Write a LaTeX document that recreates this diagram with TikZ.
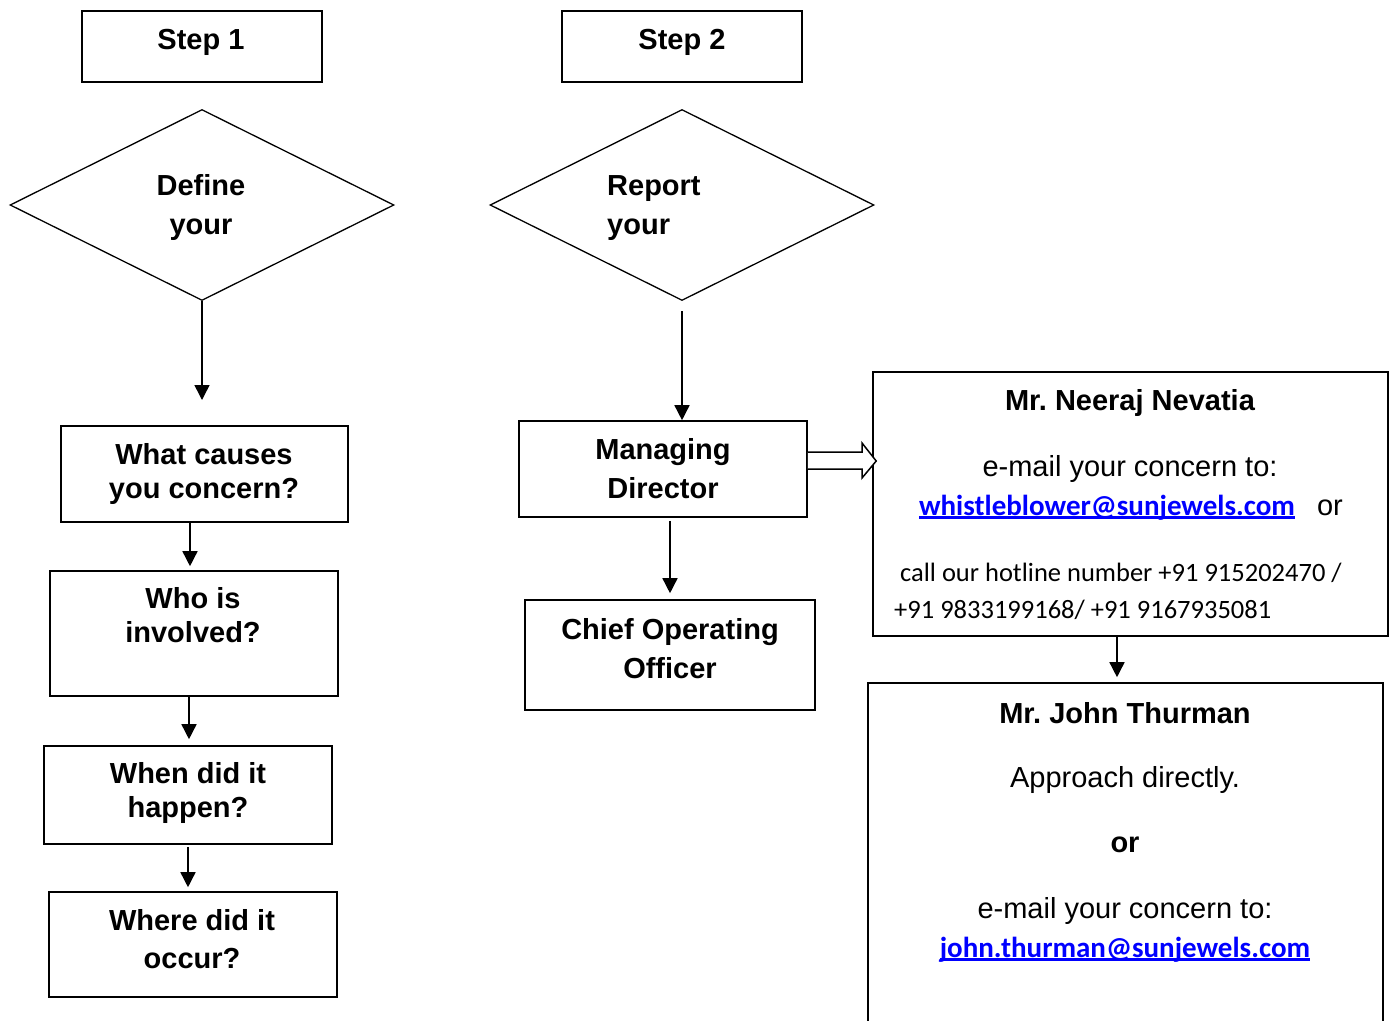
\documentclass[tikz,border=0pt]{standalone}
\usepackage{fontspec}
\setmainfont{Liberation Sans}
\newfontfamily\calibri{Carlito}
\usetikzlibrary{arrows.meta,shapes.geometric}
\definecolor{linkblue}{RGB}{0,0,255}
\newcommand\mailline[1]{\setbox0\hbox{#1}\leavevmode\rlap{\rule[-4pt]{\wd0}{2.8pt}}\box0}
\frenchspacing

\tikzset{
  box/.style={draw, line width=1.6pt, rectangle, inner sep=0pt},
  dmnd/.style={draw, line width=1.3pt, diamond, inner sep=0pt, minimum width=384pt, minimum height=191pt},
  txt/.style={inner sep=0pt, align=center, font=\fontsize{29}{34}\selectfont\bfseries},
  plain/.style={inner sep=0pt, font=\fontsize{29}{34}\selectfont},
  hot/.style={inner sep=0pt, anchor=west, font=\calibri\fontsize{26.5}{30}\selectfont},
  mail/.style={inner sep=0pt, text=linkblue, font=\calibri\bfseries\fontsize{29}{34}\selectfont},
  arr/.style={-{Triangle[length=15pt,width=15pt]}, line width=1.5pt},
}

\begin{document}
\begin{tikzpicture}[x=1pt,y=1pt,yscale=-1,xscale=1]
\useasboundingbox (0,0) rectangle (1389,1020);
\clip (0,0) rectangle (1389,1020);

%Shape: Rectangle [step 1]
\node[box, minimum width=240pt, minimum height=71pt] (step1) at (202,46.5) {};
%Shape: Rectangle [step 2]
\node[box, minimum width=240pt, minimum height=71pt] (step2) at (682,46.5) {};
%Shape: Diamond [define]
\node[dmnd] (define) at (202,205) {};
%Shape: Diamond [report]
\node[dmnd] (report) at (682,205) {};

%Shape: Rectangle [left column]
\node[box, minimum width=287pt, minimum height=96pt] (what) at (204.5,474) {};
\node[box, minimum width=288pt, minimum height=125pt] (who) at (194,633.5) {};
\node[box, minimum width=288pt, minimum height=98pt] (when) at (188,795) {};
\node[box, minimum width=288pt, minimum height=105pt] (where) at (193,944.5) {};

%Shape: Rectangle [middle column]
\node[box, minimum width=288pt, minimum height=96pt] (md) at (663,469) {};
\node[box, minimum width=290pt, minimum height=110pt] (coo) at (670,655) {};

%Shape: Rectangle [right column]
\node[box, minimum width=515pt, minimum height=264pt] (neeraj) at (1130.5,504) {};
\node[box, minimum width=515pt, minimum height=357pt] (john) at (1125.5,861.5) {};

% Text Node
\node[txt] (tstep1) at (201,42) {Step 1};
% Text Node
\node[txt] (tstep2) at (682,42) {Step 2};
% Text Node
\node[txt, align=center] (tdefine) at (201,207) {Define\\[5pt]your};
% Text Node
\node[txt, align=left, anchor=west] (treport) at (607,208) {Report\\[5pt]your};
% Text Node
\node[txt] (twhat) at (204,474) {What causes\\you concern?};
% Text Node
\node[txt] (twho) at (193,615) {Who is\\involved?};
% Text Node
\node[txt] (twhen) at (188,793) {When did it\\happen?};
% Text Node
\node[txt] (twhere) at (192,939) {Where did it\\[4pt]occur?};
% Text Node
\node[txt] (tmd) at (663,469) {Managing\\[5pt]Director};
% Text Node
\node[txt] (tcoo) at (670,649) {Chief Operating\\[5pt]Officer};

% Text Node
\node[txt] (tneeraj) at (1130,403) {Mr. Neeraj Nevatia};
% Text Node
\node[plain] (tmail1) at (1130,469) {e-mail your concern to:};
% Text Node
\node[mail, anchor=base] (addr1) at (1107,515) {\mailline{whistleblower@sunjewels.com}};
% Text Node
\node[plain, anchor=base] (tor1) at (1330,515) {or};
% Text Node
\node[hot] (hot1) at (900,573) {call our hotline number +91 915202470 /};
% Text Node
\node[hot] (hot2) at (894,610) {+91 9833199168/ +91 9167935081};

% Text Node
\node[txt] (tjohn) at (1125,713) {Mr. John Thurman};
% Text Node
\node[plain] (tdirect) at (1125,780) {Approach directly.};
% Text Node
\node[txt] (tor2) at (1125,845) {or};
% Text Node
\node[plain] (tmail2) at (1125,911) {e-mail your concern to:};
% Text Node
\node[mail, anchor=base] (addr2) at (1125,957) {\mailline{john.thurman@sunjewels.com}};

%Straight Lines [id:arrows]
\coordinate (defend) at (202,400);
\draw[arr] (define.south) -- (defend);
\draw[arr] (what.south -| 190,0) -- ([yshift=-4pt]who.north -| 190,0);
\draw[arr] (who.south -| 189,0) -- ([yshift=-6pt]when.north -| 189,0);
\draw[arr] ([yshift=2pt]when.south -| 188,0) -- ([yshift=-4pt]where.north -| 188,0);
\draw[arr] ([yshift=10pt]report.south) -- (report.south |- md.north);
\draw[arr] ([yshift=3pt]md.south -| coo.north) -- ([yshift=-6pt]coo.north);
\draw[arr] (neeraj.south -| 1117,0) -- ([yshift=-5pt]john.north -| 1117,0);

%Shape: Right Arrow [hollow]
\draw[line width=1.5pt, fill=white] (md.east |- 0,452) -- (862,452) -- (862,443) -- ([xshift=4pt]neeraj.west |- 0,461)
  -- (862,478) -- (862,469) -- (md.east |- 0,469);

\end{tikzpicture}
\end{document}
